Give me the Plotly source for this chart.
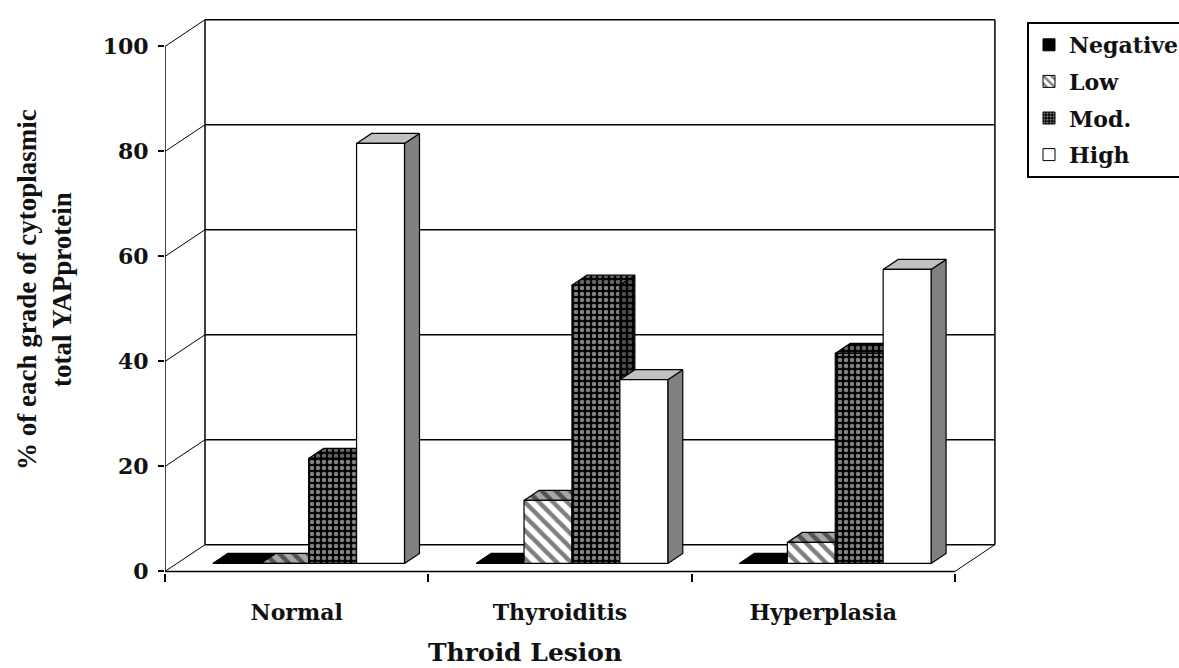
import plotly.graph_objects as go

# ---------------- data ----------------
categories = ["Normal", "Thyroiditis", "Hyperplasia"]
series_names = ["Negative", "Low", "Mod.", "High"]
negative = [0, 0, 0]
low = [0, 12, 4]
moderate = [20, 53, 40]
high = [80, 35, 56]
y_ticks = [0, 20, 40, 60, 80, 100]
y_title = "% of each grade of cytoplasmic<br>total YAPprotein"
x_title = "Throid Lesion"

values = [negative, low, moderate, high]

# ---------------- geometry of the fake 3-D box ----------------
W_PX, H_PX = 1179, 668
M_L, M_R, M_T, M_B = 165, 179, 15, 95
plot_w = W_PX - M_L - M_R
plot_h = H_PX - M_T - M_B
PX_X = 263.3          # px per category
PX_Y = 5.25           # px per % unit
x_min = -0.5
x_max = x_min + plot_w / PX_X
y_min = -0.3
y_max = y_min + plot_h / PX_Y

DX = 40 / PX_X        # depth offset of back wall (x units)
DY = 26.7 / PX_Y      # depth offset of back wall (y units)
BW = 0.182            # bar width (category units)
Z0, Z1 = 0.30, 0.675  # bar depth (fraction of box depth)

x_left, x_right = -0.5, len(categories) - 0.5


def proj(x, y, z):
    return x + z * DX, y + z * DY


FONT = "DejaVu Serif"
TXT = "#111111"

STRIPE = dict(shape="\\", fgcolor="black", size=10, solidity=0.45)
DOTS = dict(shape=".", bgcolor="black", size=6, solidity=0.45)

# styles: (front, top, side)
styles = {
    "Negative": [dict(fillcolor="black"), dict(fillcolor="black"), dict(fillcolor="#1a1a1a")],
    "Low": [
        dict(fillcolor="white", fillpattern=dict(STRIPE, bgcolor="white")),
        dict(fillcolor="#a6a6a6", fillpattern=dict(STRIPE, bgcolor="#a6a6a6")),
        dict(fillcolor="#808080", fillpattern=dict(STRIPE, bgcolor="#808080")),
    ],
    "Mod.": [
        dict(fillcolor="black", fillpattern=dict(DOTS, fgcolor="white")),
        dict(fillcolor="black", fillpattern=dict(DOTS, fgcolor="#c8c8c8")),
        dict(fillcolor="black", fillpattern=dict(DOTS, fgcolor="#9a9a9a")),
    ],
    "High": [dict(fillcolor="white"), dict(fillcolor="#c0c0c0"), dict(fillcolor="#808080")],
}

legend_markers = {
    "Negative": dict(color="black", line=dict(color="black", width=1)),
    "Low": dict(color="white", line=dict(color="black", width=1),
                pattern=dict(shape="\\", bgcolor="white", fgcolor="black", size=7, solidity=0.45)),
    "Mod.": dict(color="black", line=dict(color="black", width=1),
                 pattern=dict(shape=".", bgcolor="black", fgcolor="white", size=4, solidity=0.45)),
    "High": dict(color="white", line=dict(color="black", width=1)),
}

fig = go.Figure()


def face(pts, style):
    xs, ys = zip(*[proj(*p) for p in pts])
    xs = list(xs) + [xs[0]]
    ys = list(ys) + [ys[0]]
    fig.add_trace(go.Scatter(x=xs, y=ys, mode="lines", fill="toself",
                             line=dict(color="black", width=1.2),
                             hoverinfo="skip", showlegend=False, **style))


n_s = len(series_names)
for ci, cat in enumerate(categories):
    for si, name in enumerate(series_names):
        v = values[si][ci]
        x0 = ci - n_s / 2 * BW + si * BW
        x1 = x0 + BW
        st = styles[name]
        # side face (right)
        face([(x1, 0, Z0), (x1, 0, Z1), (x1, v, Z1), (x1, v, Z0)], st[2])
        # top face
        face([(x0, v, Z0), (x1, v, Z0), (x1, v, Z1), (x0, v, Z1)], st[1])
        # front face
        face([(x0, 0, Z0), (x1, 0, Z0), (x1, v, Z0), (x0, v, Z0)], st[0])

# legend entries
for name in series_names:
    fig.add_trace(go.Bar(x=[None], y=[None], name=name, marker=legend_markers[name],
                         legendgroup=name, hoverinfo="skip"))

# ---------------- walls, floor, grid ----------------
shapes = []
LC = dict(color="black", width=1.5)
for t in y_ticks:
    # back wall grid lines
    bx0, by0 = proj(x_left, t, 1)
    bx1, by1 = proj(x_right, t, 1)
    shapes.append(dict(type="line", xref="x", yref="y", x0=bx0, y0=by0, x1=bx1, y1=by1,
                       line=LC, layer="below"))
    # left wall diagonals
    fx, fy = proj(x_left, t, 0)
    shapes.append(dict(type="line", xref="x", yref="y", x0=fx, y0=fy, x1=bx0, y1=by0,
                       line=dict(color="black", width=1), layer="below"))
# back wall vertical edges
for xe in (x_left, x_right):
    ax, ay = proj(xe, 0, 1)
    bx, by = proj(xe, y_ticks[-1], 1)
    shapes.append(dict(type="line", xref="x", yref="y", x0=ax, y0=ay, x1=bx, y1=by,
                       line=LC, layer="below"))
# front value axis
shapes.append(dict(type="line", xref="x", yref="y", x0=x_left, y0=0, x1=x_left, y1=y_ticks[-1],
                   line=LC, layer="below"))
# floor front edge
shapes.append(dict(type="line", xref="x", yref="y", x0=x_left, y0=0, x1=x_right, y1=0,
                   line=LC, layer="below"))
# floor right edge
rx, ry = proj(x_right, 0, 1)
shapes.append(dict(type="line", xref="x", yref="y", x0=x_right, y0=0, x1=rx, y1=ry,
                   line=dict(color="black", width=1), layer="below"))


def paper_x(px):
    return (px - M_L) / plot_w


def paper_y(py):
    return (H_PX - M_B - py) / plot_h


annotations = [
    dict(text=y_title, textangle=-90, xref="paper", yref="paper",
         x=paper_x(44), y=paper_y(290), xanchor="center", yanchor="middle",
         showarrow=False,
         font=dict(family="Liberation Serif", size=27, color=TXT, weight="bold")),
    dict(text=x_title, xref="paper", yref="paper",
         x=paper_x(525), y=paper_y(652), xanchor="center", yanchor="middle",
         showarrow=False,
         font=dict(family=FONT, size=25, color=TXT, weight="bold")),
]

fig.update_layout(
    width=W_PX, height=H_PX,
    margin=dict(l=M_L, r=M_R, t=M_T, b=M_B, autoexpand=False),
    paper_bgcolor="white", plot_bgcolor="white",
    shapes=shapes, annotations=annotations,
    showlegend=True,
    legend=dict(x=paper_x(1027), xanchor="left", y=paper_y(22), yanchor="top",
                bordercolor="black", borderwidth=2, bgcolor="white",
                font=dict(family=FONT, size=22, color=TXT, weight="bold"),
                tracegroupgap=5, traceorder="grouped"),
    xaxis=dict(type="linear", range=[x_min, x_max], tickmode="array",
               tickvals=list(range(len(categories))), ticktext=categories,
               ticks="", showgrid=False, zeroline=False, showline=False,
               tickfont=dict(family=FONT, size=22, color=TXT, weight="bold"),
               ticklabelstandoff=24,
               minor=dict(tickmode="array",
                          tickvals=[i - 0.5 for i in range(len(categories) + 1)],
                          ticks="outside", ticklen=8, tickwidth=1.5, tickcolor="black",
                          showgrid=False),
               fixedrange=True),
    yaxis=dict(type="linear", range=[y_min, y_max], tickmode="array", tickvals=y_ticks,
               ticks="outside", ticklen=6, tickwidth=1.5, tickcolor="black",
               showgrid=False, zeroline=False, showline=False,
               tickfont=dict(family=FONT, size=22, color=TXT, weight="bold"),
               ticklabelstandoff=5, fixedrange=True),
)

fig.write_html("out.html")
